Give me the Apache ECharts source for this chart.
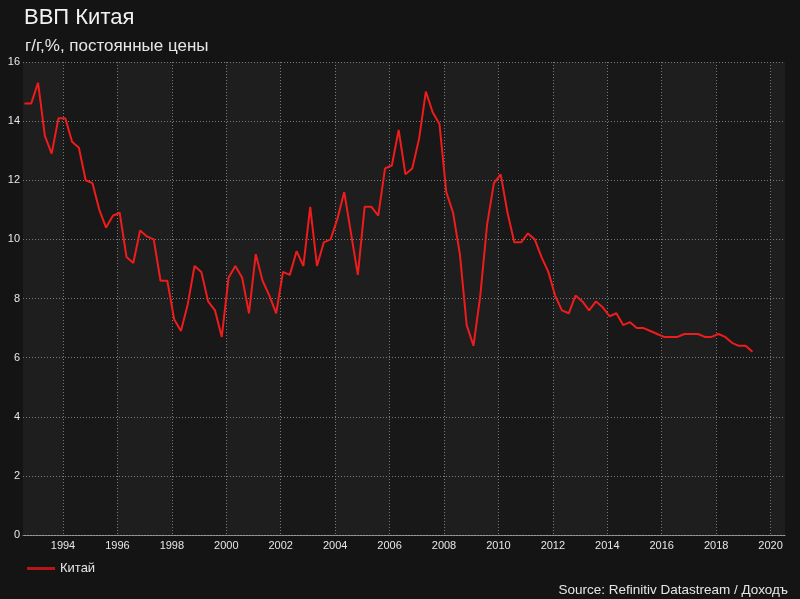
<!DOCTYPE html>
<html>
<head>
<meta charset="utf-8">
<script src="https://cdn.jsdelivr.net/npm/echarts@6/dist/echarts.min.js"></script>
<style>
html,body{margin:0;padding:0;background:#141414;}
#chart{width:800px;height:599px;}
</style>
</head>
<body>
<div id="chart"></div>
<script>
// Quarterly series: first observation 1992 Q3, last 2019 Q2
var startYear = 1992;
var startQuarter = 3;
var gdpChina = [
  14.6, 14.6, 15.3, 13.5, 12.9, 14.1, 14.1, 13.3, 13.1, 12.0,
  11.9, 11.0, 10.4, 10.8, 10.9, 9.4, 9.2, 10.3, 10.1, 10.0,
  8.6, 8.6, 7.3, 6.9, 7.8, 9.1, 8.9, 7.9, 7.6, 6.7,
  8.7, 9.1, 8.7, 7.5, 9.5, 8.6, 8.1, 7.5, 8.9, 8.8,
  9.6, 9.1, 11.1, 9.1, 9.9, 10.0, 10.7, 11.6, 10.2, 8.8,
  11.1, 11.1, 10.8, 12.4, 12.5, 13.7, 12.2, 12.4, 13.4, 15.0,
  14.3, 13.9, 11.6, 10.9, 9.5, 7.1, 6.4, 8.1, 10.5, 11.9,
  12.2, 10.9, 9.9, 9.9, 10.2, 10.0, 9.4, 8.9, 8.1, 7.6,
  7.5, 8.1, 7.9, 7.6, 7.9, 7.7, 7.4, 7.5, 7.1, 7.2,
  7.0, 7.0, 6.9, 6.8, 6.7, 6.7, 6.7, 6.8, 6.8, 6.8,
  6.7, 6.7, 6.8, 6.7, 6.5, 6.4, 6.4, 6.2
];
var yearTicks = [1994, 1996, 1998, 2000, 2002, 2004, 2006, 2008, 2010, 2012, 2014, 2016, 2018, 2020];
var yTicksMin = 0, yTicksMax = 16, yTicksStep = 2;
var titleText = 'ВВП Китая';
var subtitleText = 'г/г,%, постоянные цены';
var seriesName = 'Китай';
var sourceText = 'Source: Refinitiv Datastream / Доходъ';

var points = gdpChina.map(function (v, i) {
  var qIndex = (startQuarter - 1) + i;
  var year = startYear + Math.floor(qIndex / 4);
  var q = qIndex % 4;
  var t = year + q / 4 + 1 / 12;
  return [t, v];
});

var chart = echarts.init(document.getElementById('chart'), null, {renderer: 'canvas'});
var font = '"Liberation Sans", Arial, sans-serif';
chart.setOption({
  backgroundColor: '#141414',
  animation: false,
  title: [
    {text: titleText, left: 19, top: 2, textStyle: {color: '#f2f2f2', fontSize: 22, fontWeight: 'normal', fontFamily: font}},
    {text: subtitleText, left: 20, top: 33, textStyle: {color: '#e6e6e6', fontSize: 17, fontWeight: 'normal', fontFamily: font}}
  ],
  grid: {left: 23, right: 15, top: 62, bottom: 64, containLabel: false,
         show: true, backgroundColor: '#1e1e1e', borderWidth: 0},
  legend: {
    left: 22, top: 557,
    itemWidth: 28, itemHeight: 14, itemGap: 10,
    textStyle: {color: '#e6e6e6', fontSize: 13, fontFamily: font},
    data: [{name: seriesName, icon: 'path://M0,5.5 L28,5.5 L28,8.5 L0,8.5 Z', itemStyle: {color: '#b81616'}}]
  },
  xAxis: {
    type: 'value',
    min: 1992.53, max: 2020.53,
    z: 0,
    axisLine: {show: true, lineStyle: {color: '#9a9a9a', width: 1}},
    axisTick: {show: false, customValues: yearTicks},
    axisLabel: {customValues: yearTicks, color: '#e6e6e6', fontSize: 11, fontFamily: font, margin: 5,
                formatter: function (v) { return String(Math.round(v)); }},
    splitLine: {show: true, lineStyle: {color: '#7a7a7a', width: 1, type: [1, 2]}},
    splitArea: {show: true, areaStyle: {color: ['#181818', '#1e1e1e']}}
  },
  yAxis: {
    type: 'value',
    z: 1,
    min: yTicksMin, max: yTicksMax, interval: yTicksStep,
    axisLine: {show: false},
    axisTick: {show: false},
    axisLabel: {color: '#e6e6e6', fontSize: 11, fontFamily: font, margin: 3},
    splitLine: {show: true, lineStyle: {color: '#7a7a7a', width: 1, type: [1, 2]}}
  },
  series: [{
    name: seriesName,
    type: 'line',
    data: points,
    symbol: 'none',
    lineStyle: {color: '#ee1c1c', width: 2},
    itemStyle: {color: '#b81616'},
    z: 5
  }],
  graphic: [{
    type: 'text',
    right: 12, top: 583,
    style: {text: sourceText, fill: '#e6e6e6', font: '13.5px ' + font}
  }]
});
</script>
</body>
</html>
